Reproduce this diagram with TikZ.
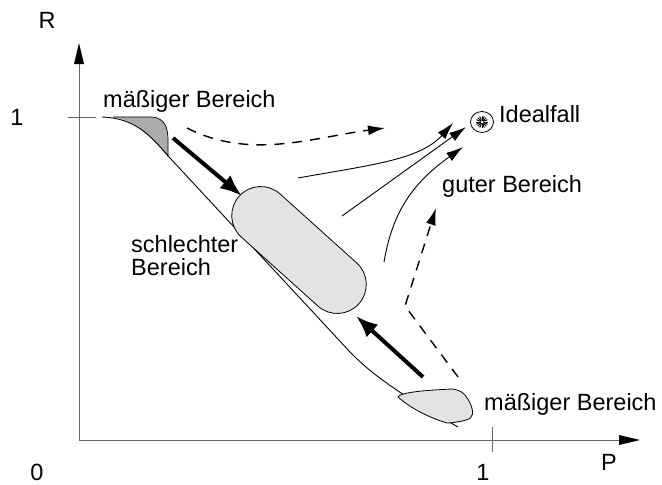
\documentclass[tikz,border=0pt]{standalone}
\usepackage{fontspec}
\setmainfont{Liberation Sans}
\usetikzlibrary{arrows.meta,shapes.geometric,calc}
\begin{document}
\begin{tikzpicture}[x=1pt,y=-1pt,
  lbl/.style={inner sep=0pt,font=\fontsize{23.5}{27}\selectfont},
  axis/.style={draw=black!60,line width=1pt},
  thin/.style={line width=0.9pt,-{Latex[length=17pt,width=10pt]}},
  thick/.style={line width=4pt,-{Latex[length=22pt,width=17pt]}},
  dashline/.style={line width=1.4pt,dash pattern=on 10pt off 8pt,-{Latex[length=17pt,width=10pt]}}]
\useasboundingbox (0,0) rectangle (662,485);
% axes
\coordinate (o) at (79,440);
\coordinate (ytop) at (79,43);
\coordinate (xend) at (640,440);
\draw[axis] (o) -- (79,62);
\fill (79,43) -- (74,64) -- (84,64) -- cycle;
\draw[axis] (o) -- (622,440);
\fill (640,440) -- (619,435) -- (619,445) -- cycle;
\draw[axis] (68,117) -- (96,117);
\draw[axis] (492,427) -- (492,452);
\node[lbl] (R) at (47,20) {R};
\node[lbl] (one1) at (17,117) {1};
\node[lbl] (zero) at (37,472) {0};
\node[lbl] (one2) at (483,472) {1};
\node[lbl] (P) at (609,462) {P};
% upper left blob
\fill[black!33] (113,117) -- (152,117) .. controls (165,118) and (168,128) .. (168,140) -- (168,157)
  .. controls (150,135) and (135,120) .. cycle;
\draw[line width=0.7pt] (113,117) -- (152,117) .. controls (165,118) and (168,128) .. (168,140) -- (168,157);
% main curve
\draw[line width=0.9pt] (102,117) .. controls (135,118) and (150,135) .. (170,158) -- (350,352) .. controls (375,378) and (410,400) .. (458,427);
% lower right blob
\draw[line width=0.8pt,fill=black!11] (398,397) .. controls (400,392) and (430,390) .. (452,389) .. controls (462,390) and (466,395) .. (470,403)
  .. controls (474,412) and (474,418) .. (466,420) .. controls (460,422) and (450,423) .. (447,423) .. controls (430,418) and (410,408) .. cycle;
% capsule
\node[draw,line width=0.8pt,fill=black!11,rounded corners=29pt,minimum width=161pt,minimum height=58pt,rotate=-42,inner sep=0pt] (cap) at (299,250) {};
% Idealfall
\node[draw,line width=0.8pt,ellipse,minimum width=23pt,minimum height=21pt,inner sep=0pt] (ideal) at (482,122) {};
\foreach \a in {0,22.5,...,337.5} \draw[line width=1pt] ($(ideal.center)+(\a:1.5)$) -- ($(ideal.center)+(\a:6)$);
\node[lbl,anchor=west] (idtxt) at (499,114) {Idealfall};
% texts
\node[lbl,anchor=west] (mtop) at (103,101) {mäßiger Bereich};
\node[lbl,anchor=west] (mbot) at (484,404) {mäßiger Bereich};
\node[lbl,anchor=west] (gut) at (442,186) {guter Bereich};
\node[lbl,anchor=north west,align=left] (schl) at (131,235) {schlechter\\[-4pt]Bereich};
% arrows
\coordinate (a1s) at (173,138); \coordinate (a1e) at (242,196);
\draw[thick] (a1s) -- (a1e);
\coordinate (a2s) at (423,377); \coordinate (a2e) at (356,316);
\draw[thick] (a2s) -- (a2e);
\coordinate (d1s) at (187,128); \coordinate (d1e) at (385,128);
\draw[dashline] (d1s) .. controls (250,160) and (310,138) .. (d1e);
\coordinate (d2s) at (458,377); \coordinate (d2m) at (405,306); \coordinate (d2e) at (436,208);
\draw[dashline] (d2s) -- (d2m) -- (d2e);
\coordinate (t1s) at (298,178); \coordinate (t1e) at (453,123);
\draw[thin] (t1s) .. controls (370,165) and (420,160) .. (t1e);
\coordinate (t2s) at (342,216); \coordinate (t2e) at (466,127);
\draw[thin] (t2s) -- (t2e);
\coordinate (t3s) at (384,262); \coordinate (t3e) at (463,147);
\draw[thin] (t3s) .. controls (392,215) and (410,185) .. (t3e);
\end{tikzpicture}
\end{document}
